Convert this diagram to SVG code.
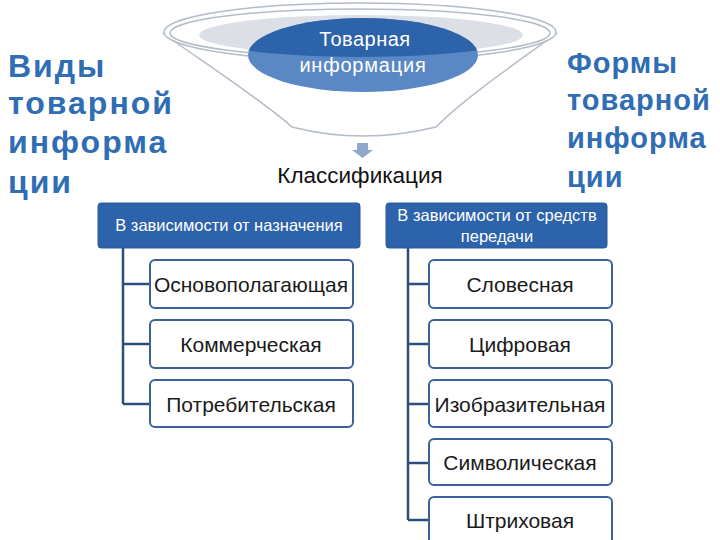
<svg xmlns="http://www.w3.org/2000/svg" width="720" height="540" viewBox="0 0 720 540">
<style>
.title{font-family:"Liberation Sans",Arial,sans-serif;font-weight:bold;fill:#2f6db4}
.lbl{font-family:"Liberation Sans",Arial,sans-serif;font-size:21px;fill:#1a1a1a;text-anchor:middle}
.hdr{font-family:"Liberation Sans",Arial,sans-serif;font-size:16.5px;fill:#ffffff;text-anchor:middle}
.hbox{fill:#2c63aa;stroke:#2a5a98;stroke-width:1}
.cbox{fill:#ffffff;stroke:#3a6298;stroke-width:2}
.conn{stroke:#2d4d7c;stroke-width:2.5;fill:none}
</style>
<defs>
<clipPath id="topclip"><ellipse cx="361" cy="35" rx="162" ry="22"/></clipPath>
</defs>
<rect width="720" height="540" fill="#ffffff"/>
<g id="funnel">
<path d="M164,34 C200,60 262,100 292,127 Q362,145 436,127 C462,100 520,60 556,34 Z" fill="#ffffff" stroke="#b4bcc8" stroke-width="1.5"/>
<ellipse cx="360" cy="32" rx="196" ry="29" fill="#ffffff" stroke="#b4bcc8" stroke-width="1.5"/>
<ellipse cx="360" cy="33" rx="190" ry="24" fill="#ffffff" stroke="#b4bcc8" stroke-width="1.5"/>
<ellipse cx="361" cy="35" rx="162" ry="20" fill="#dcdfe6"/>
<ellipse cx="363" cy="55" rx="115" ry="37" fill="#5a88c4"/>
<ellipse cx="363" cy="55" rx="115" ry="37" fill="#2c63ab" clip-path="url(#topclip)"/>
<text x="365" y="46" font-family="Liberation Sans,Arial,sans-serif" font-size="20" letter-spacing="0.5" fill="#ffffff" text-anchor="middle">Товарная</text>
<text x="363" y="72" font-family="Liberation Sans,Arial,sans-serif" font-size="20" letter-spacing="0.8" fill="#ffffff" text-anchor="middle">информация</text>
</g>
<g id="arrow">
<path d="M357,143 H368 V150 H373 L362.5,158 L352,150 H357 Z" fill="#8fa8cb"/>
</g>
<g id="classification">
<text x="360" y="183" font-family="Liberation Sans,Arial,sans-serif" font-size="22.5" fill="#111111" text-anchor="middle">Классификация</text>
</g>
<g id="left-title">
<text class="title" font-size="32" letter-spacing="2"><tspan x="8" y="77">Виды</tspan><tspan x="8" y="114">товарной</tspan><tspan x="8" y="153">информа</tspan><tspan x="8" y="193">ции</tspan></text>
</g>
<g id="right-title">
<text class="title" font-size="29" letter-spacing="1"><tspan x="567" y="73">Формы</tspan><tspan x="567" y="110">товарной</tspan><tspan x="567" y="148">информа</tspan><tspan x="567" y="187">ции</tspan></text>
</g>
<g id="connectors">
<path class="conn" d="M123,248 V404 M123,284 H150 M123,344 H150 M123,404 H150"/>
<path class="conn" d="M408,248 V520 M408,284 H429 M408,344 H429 M408,404 H429 M408,463 H429 M408,520 H429"/>
</g>
<g id="left-header">
<rect class="hbox" x="98" y="203" width="262" height="45" rx="3"/>
<text class="hdr" x="229" y="231">В зависимости от назначения</text>
</g>
<g id="l1"><rect class="cbox" x="150" y="260" width="203" height="48" rx="5"/><text class="lbl" x="251" y="292">Основополагающая</text></g>
<g id="l2"><rect class="cbox" x="150" y="320" width="203" height="48" rx="5"/><text class="lbl" x="251" y="352">Коммерческая</text></g>
<g id="l3"><rect class="cbox" x="150" y="380" width="203" height="47" rx="5"/><text class="lbl" x="251" y="412">Потребительская</text></g>
<g id="right-header">
<rect class="hbox" x="386" y="203" width="221" height="45" rx="3"/>
<text class="hdr" x="497" y="221">В зависимости от средств</text>
<text class="hdr" x="497" y="242">передачи</text>
</g>
<g id="r1"><rect class="cbox" x="429" y="260" width="183" height="48" rx="5"/><text class="lbl" x="520" y="292">Словесная</text></g>
<g id="r2"><rect class="cbox" x="429" y="320" width="183" height="48" rx="5"/><text class="lbl" x="520" y="352">Цифровая</text></g>
<g id="r3"><rect class="cbox" x="429" y="380" width="183" height="47" rx="5"/><text class="lbl" x="520" y="412">Изобразительная</text></g>
<g id="r4"><rect class="cbox" x="429" y="439" width="183" height="46" rx="5"/><text class="lbl" x="520" y="470">Символическая</text></g>
<g id="r5"><rect class="cbox" x="429" y="497" width="183" height="50" rx="5"/><text class="lbl" x="520" y="528">Штриховая</text></g>
</svg>
